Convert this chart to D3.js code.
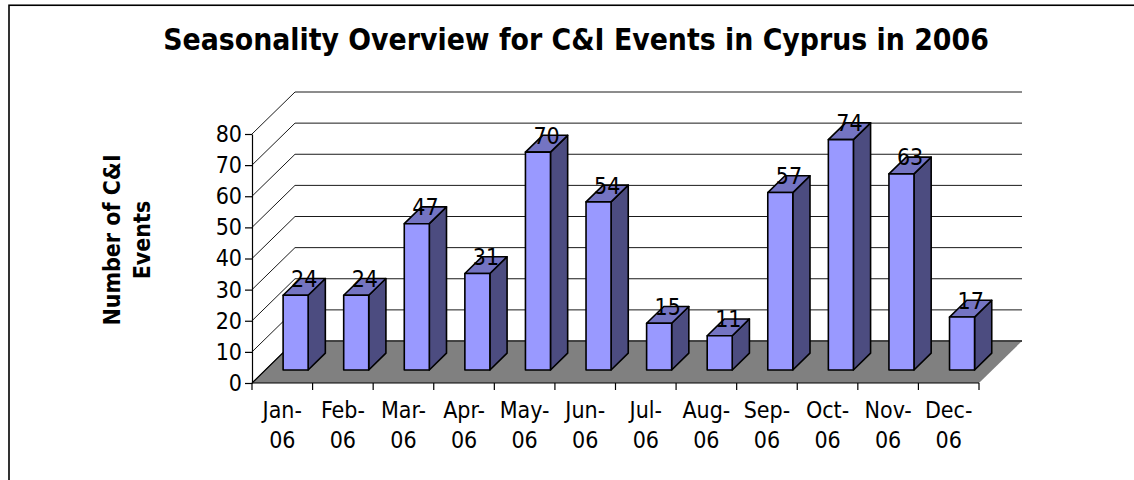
<!DOCTYPE html>
<html>
<head>
<meta charset="utf-8">
<script src="https://cdn.jsdelivr.net/npm/d3@7"></script>
<style>
  html, body { margin: 0; padding: 0; background: #fff; }
  svg { display: block; }
  text { font-family: "DejaVu Sans Condensed", "DejaVu Sans", sans-serif; fill: #000; }
</style>
</head>
<body>
<svg id="chart" width="1134" height="480"></svg>
<script>
// Monthly C&I event counts, Cyprus 2006
const months = ["Jan-06", "Feb-06", "Mar-06", "Apr-06", "May-06", "Jun-06",
                "Jul-06", "Aug-06", "Sep-06", "Oct-06", "Nov-06", "Dec-06"];
const events = [24, 24, 47, 31, 70, 54, 15, 11, 57, 74, 63, 17];
const yTicks = [0, 10, 20, 30, 40, 50, 60, 70, 80];

const titleText = "Seasonality Overview for C&I Events in Cyprus in 2006";
const yTitleLines = ["Number of C&I", "Events"];

(function draw() {
  const svg = d3.select("#chart");

  // plot box (front plane) and oblique depth
  const plotLeft = 252, plotRight = 979, plotBottom = 383, plotTop = 134;
  const DX = 43, DY = 42;          // full depth offset of the floor / walls
  const f0 = 0.31, f1 = 0.71;      // column front / back depth fractions

  const x = d3.scaleBand().domain(months).range([plotLeft, plotRight]);
  const xb = d3.scaleBand().domain(months).range([plotLeft, plotRight])
    .paddingInner(0.587).paddingOuter(0.2935);
  const y = d3.scaleLinear().domain([0, 80]).range([plotBottom, plotTop]);

  // point at front-plane x, value v and depth fraction f
  const P = (px, v, f) => [px + f * DX, y(v) - f * DY];
  const poly = pts => "M" + pts.map(p => p.join(",")).join("L") + "Z";
  const line = pts => "M" + pts.map(p => p.join(",")).join("L");

  // chart-area border
  svg.append("rect")
    .attr("x", 9).attr("y", 5.25).attr("width", 1200).attr("height", 600)
    .attr("fill", "none").attr("stroke", "#000").attr("stroke-width", 1.6);

  // title
  svg.append("text")
    .attr("x", 576).attr("y", 50)
    .attr("text-anchor", "middle")
    .style("font-weight", "bold").style("font-size", "29.8px")
    .text(titleText);

  // side wall
  const yMax = d3.max(yTicks);
  svg.append("path")
    .attr("d", poly([P(plotLeft, 0, 0), P(plotLeft, 0, 1), P(plotLeft, yMax, 1), P(plotLeft, yMax, 0)]))
    .attr("fill", "#fff");

  // gridlines: diagonal on the side wall, horizontal on the back wall
  const grid = svg.append("g").attr("stroke", "#1a1a1a").attr("stroke-width", 1).attr("fill", "none");
  yTicks.forEach(t => {
    grid.append("path").attr("d", line([P(plotLeft, t, 0), P(plotLeft, t, 1), P(plotRight, t, 1)]));
  });

  // floor
  svg.append("path")
    .attr("d", poly([P(plotLeft, 0, 0), P(plotRight, 0, 0), P(plotRight, 0, 1), P(plotLeft, 0, 1)]))
    .attr("fill", "#808080");
  svg.append("path")
    .attr("d", line([P(plotLeft, 0, 0), P(plotLeft, 0, 1), P(plotRight, 0, 1)]))
    .attr("fill", "none").attr("stroke", "#000").attr("stroke-width", 1.2);

  // 3D columns
  const bars = svg.append("g").attr("stroke", "#000").attr("stroke-width", 1.6)
    .attr("stroke-linejoin", "round");
  months.forEach((m, i) => {
    const v = events[i];
    const bx0 = xb(m), bx1 = xb(m) + xb.bandwidth();
    const g = bars.append("g");
    g.append("path").attr("fill", "#4c4c80")
      .attr("d", poly([P(bx1, 0, f0), P(bx1, 0, f1), P(bx1, v, f1), P(bx1, v, f0)]));
    g.append("path").attr("fill", "#7474c2")
      .attr("d", poly([P(bx0, v, f0), P(bx1, v, f0), P(bx1, v, f1), P(bx0, v, f1)]));
    g.append("path").attr("fill", "#9999ff")
      .attr("d", poly([P(bx0, 0, f0), P(bx1, 0, f0), P(bx1, v, f0), P(bx0, v, f0)]));
  });

  // value labels at the centre of each column top
  const fm = (f0 + f1) / 2;
  svg.append("g").selectAll("text").data(months).join("text")
    .attr("x", m => P(xb(m) + xb.bandwidth() / 2, 0, fm)[0])
    .attr("y", (m, i) => P(0, events[i], fm)[1])
    .attr("text-anchor", "middle")
    .style("font-size", "23px")
    .text((m, i) => events[i]);

  // y axis
  const yAxis = svg.append("g").attr("transform", `translate(${plotLeft},0)`)
    .call(d3.axisLeft(y).tickValues(yTicks).tickSize(7).tickPadding(3).tickSizeOuter(0));
  yAxis.select(".domain").attr("stroke", "#000").attr("stroke-width", 1.2);
  yAxis.selectAll(".tick line").attr("stroke", "#000").attr("stroke-width", 1.2);
  yAxis.selectAll(".tick text")
    .attr("font-family", null).style("font-size", "23px").attr("fill", "#000");
  yAxis.attr("font-family", null).attr("font-size", null);

  // x axis: boundary ticks between months
  const xAxis = svg.append("g").attr("transform", `translate(0,${plotBottom})`);
  xAxis.append("path").attr("d", `M${plotLeft},0H${plotRight}`)
    .attr("stroke", "#000").attr("stroke-width", 1.2);
  const bounds = months.map(m => x(m)).concat([plotRight]);
  xAxis.selectAll("line").data(bounds).join("line")
    .attr("x1", d => d).attr("x2", d => d).attr("y1", 0).attr("y2", 7)
    .attr("stroke", "#000").attr("stroke-width", 1.2);

  // month labels on two lines
  const monthLabels = svg.append("g").selectAll("text").data(months).join("text")
    .attr("text-anchor", "middle").style("font-size", "23px");
  monthLabels.each(function (m) {
    const parts = m.split("-");
    const cx = x(m) + x.bandwidth() / 2;
    const t = d3.select(this);
    t.append("tspan").attr("x", cx).attr("y", 418).text(parts[0] + "-");
    t.append("tspan").attr("x", cx).attr("y", 448).text(parts[1]);
  });

  // y axis title
  const yt = svg.append("text")
    .attr("transform", "translate(130,240) rotate(-90)")
    .attr("text-anchor", "middle")
    .style("font-weight", "bold").style("font-size", "23px");
  yTitleLines.forEach((s, i) => {
    yt.append("tspan").attr("x", 0).attr("y", i === 0 ? -10 : 20).text(s);
  });
})();
</script>
</body>
</html>
